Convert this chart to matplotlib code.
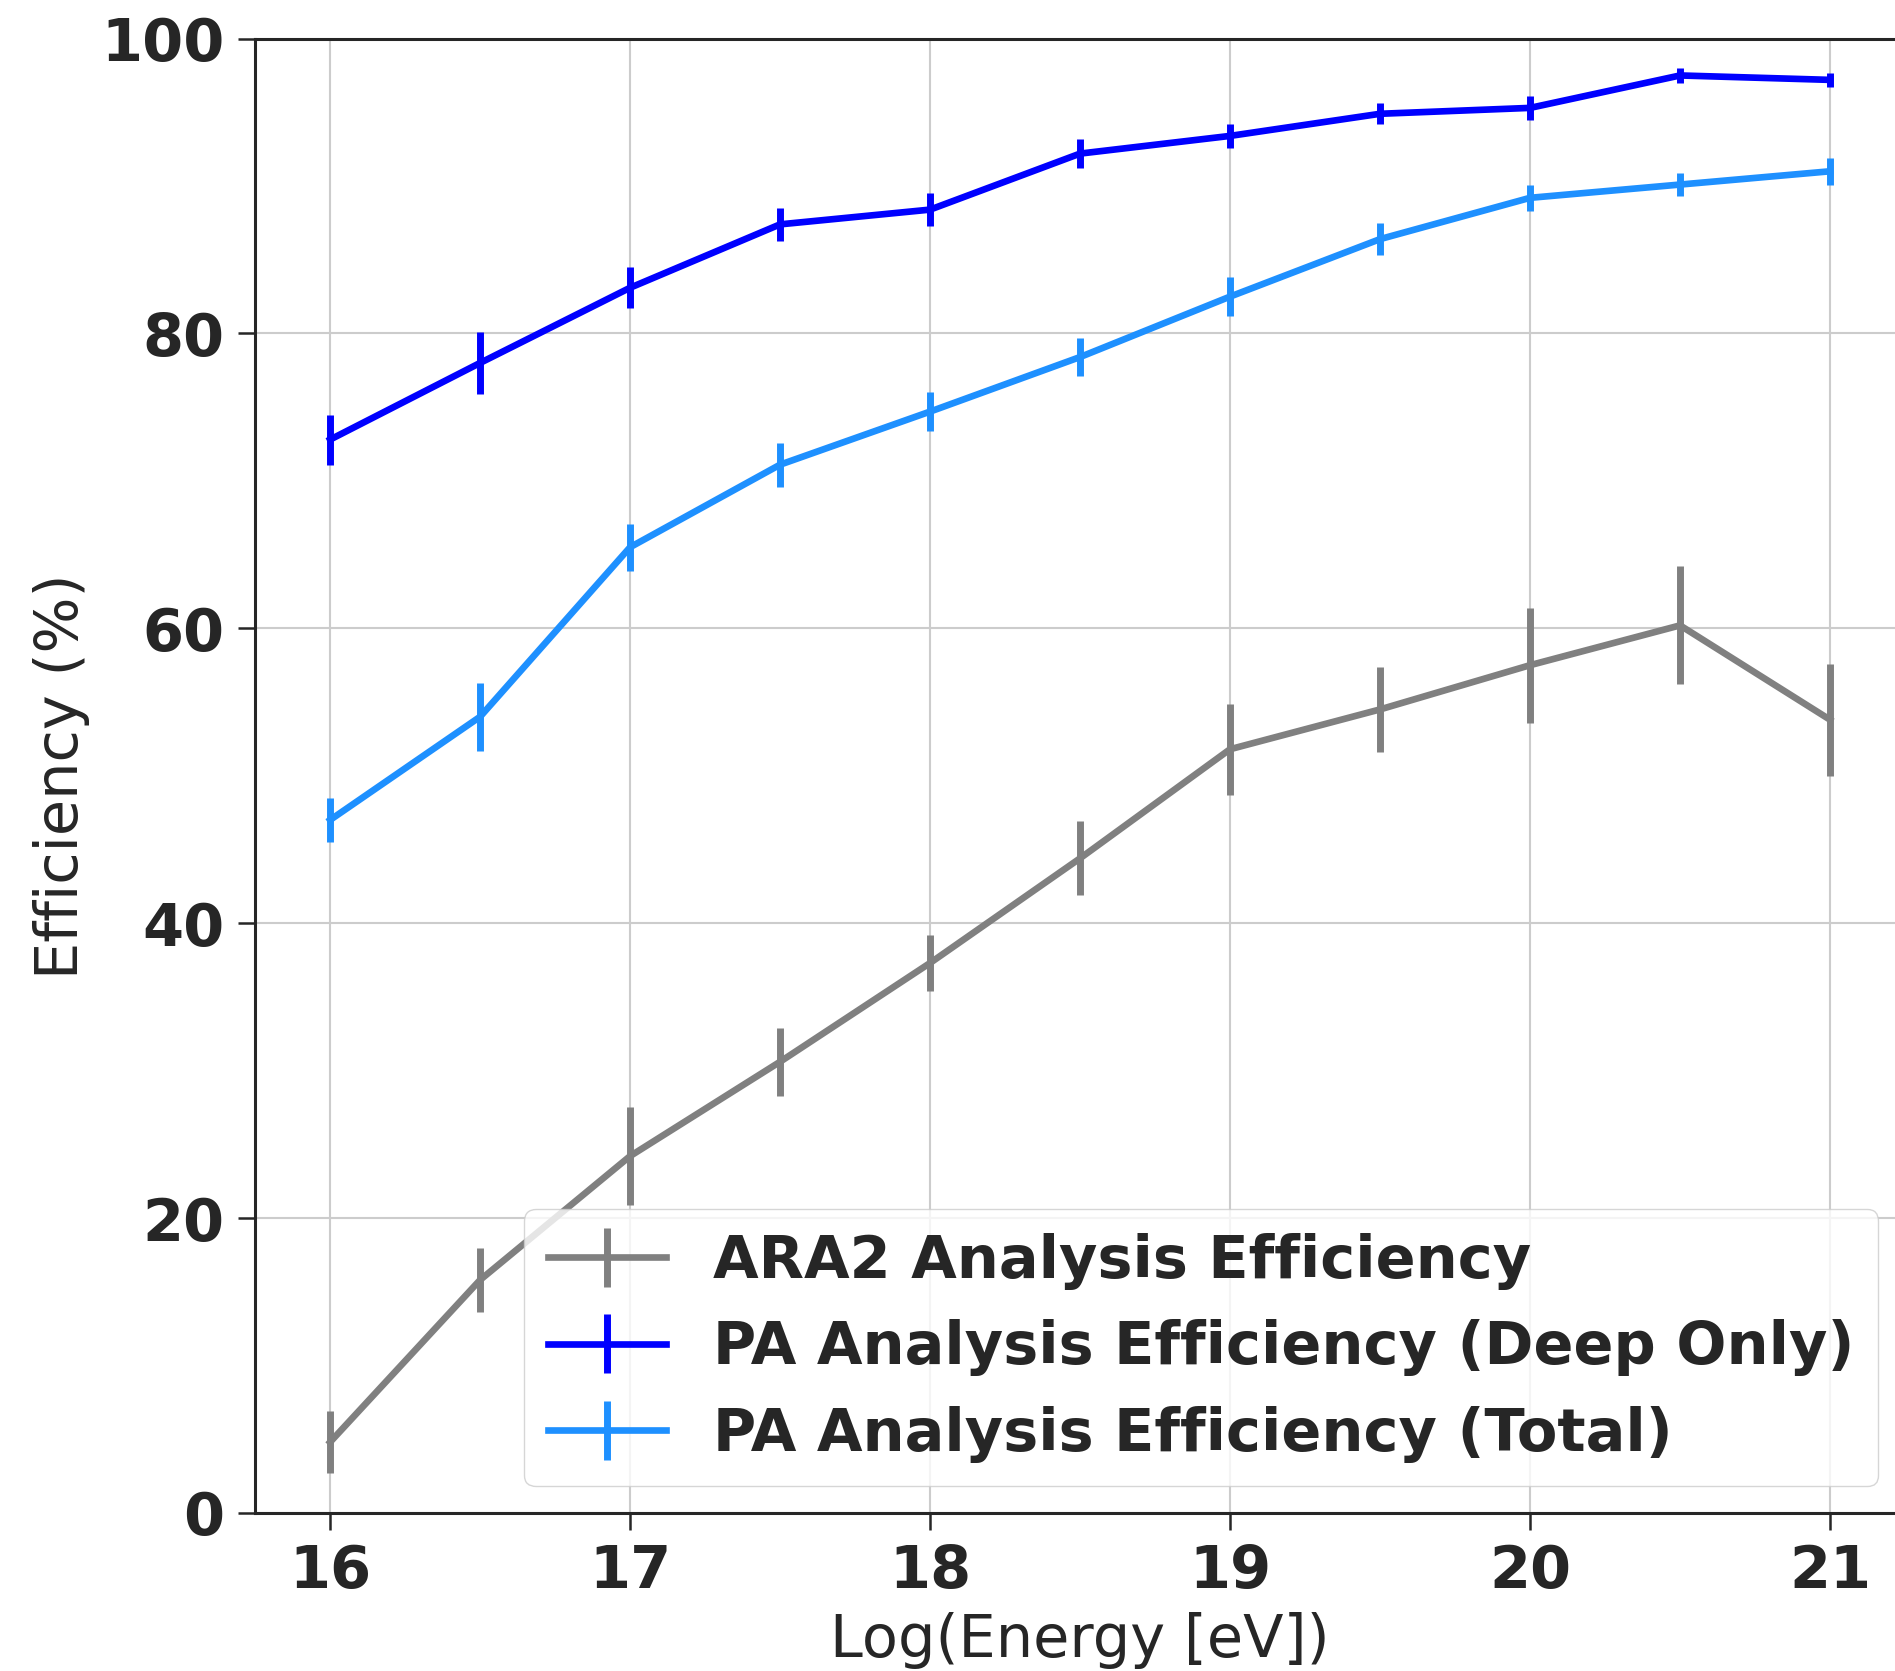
import matplotlib
matplotlib.use("Agg")
import matplotlib.pyplot as plt

log_energy = [16, 16.5, 17, 17.5, 18, 18.5, 19, 19.5, 20, 20.5, 21]

ara2_eff = [4.8, 15.8, 24.2, 30.6, 37.3, 44.4, 51.8, 54.5, 57.5, 60.2, 53.8]
ara2_err = [2.1, 2.2, 3.3, 2.3, 1.9, 2.5, 3.1, 2.9, 3.9, 4.0, 3.8]

pa_deep_eff = [72.8, 78.0, 83.1, 87.4, 88.4, 92.2, 93.4, 94.9, 95.3, 97.5, 97.2]
pa_deep_err = [1.7, 2.1, 1.4, 1.1, 1.1, 1.0, 0.8, 0.7, 0.8, 0.5, 0.5]

pa_total_eff = [47.0, 54.0, 65.5, 71.1, 74.7, 78.4, 82.5, 86.4, 89.2, 90.1, 91.0]
pa_total_err = [1.5, 2.3, 1.6, 1.5, 1.3, 1.3, 1.3, 1.1, 0.9, 0.8, 0.9]

labels = ["ARA2 Analysis Efficiency",
          "PA Analysis Efficiency (Deep Only)",
          "PA Analysis Efficiency (Total)"]

dark = "#262626"
fs = 42.5
fig = plt.figure(figsize=(18.95, 16.71), dpi=100)
ax = fig.add_axes([0.1346, 0.0946, 0.8707, 0.8823])

lw = 4.8
elw = 5.0
ax.errorbar(log_energy, ara2_eff, yerr=ara2_err, color="grey", lw=lw, elinewidth=elw, label=labels[0])
ax.errorbar(log_energy, pa_deep_eff, yerr=pa_deep_err, color="blue", lw=lw, elinewidth=elw, label=labels[1])
ax.errorbar(log_energy, pa_total_eff, yerr=pa_total_err, color="dodgerblue", lw=lw, elinewidth=elw, label=labels[2])

ax.set_xlim(15.75, 21.25)
ax.set_ylim(0, 100)
ax.set_xticks([16, 17, 18, 19, 20, 21])
ax.set_yticks([0, 20, 40, 60, 80, 100])
ax.grid(True, color="#cccccc", lw=1.5)
ax.set_axisbelow(True)
for s in ax.spines.values():
    s.set_color(dark)
    s.set_linewidth(2.2)
ax.spines["right"].set_visible(False)
ax.tick_params(axis="both", length=12, width=1.8, color=dark, labelcolor=dark, labelsize=fs, pad=10)
for t in ax.get_xticklabels() + ax.get_yticklabels():
    t.set_fontweight("bold")

ax.set_xlabel("Log(Energy [eV])", fontsize=fs, color=dark, labelpad=8)
ax.set_ylabel("Efficiency (%)", fontsize=fs, color=dark, labelpad=8)

leg = ax.legend(loc="lower right", prop={"size": fs, "weight": "bold"}, borderaxespad=0.45,
                fancybox=True, framealpha=0.8, edgecolor="#cccccc")
for t in leg.get_texts():
    t.set_color(dark)

fig.savefig("out.png", dpi=100)
